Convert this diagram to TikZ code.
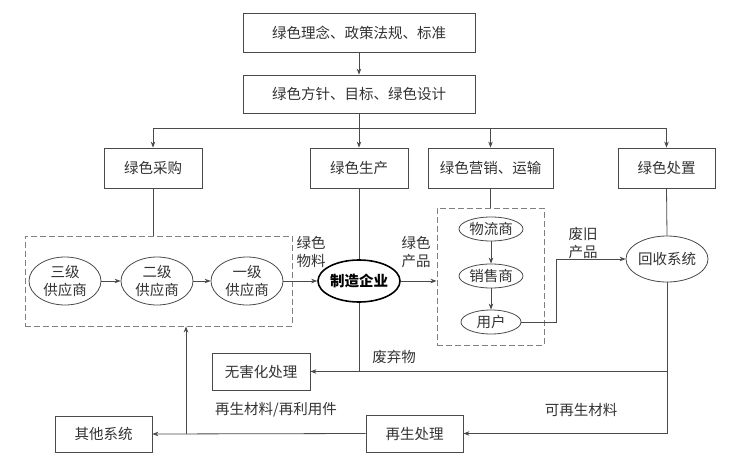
\documentclass[tikz,border=0pt]{standalone}
\usepackage{fontspec}
\newfontfamily\cjk{Noto Sans CJK SC}
\usetikzlibrary{arrows.meta,shapes.geometric}
\definecolor{ln}{HTML}{4A4A4A}
\definecolor{tx}{HTML}{333333}
\definecolor{dsh}{HTML}{808080}
\begin{document}
\begin{tikzpicture}[x=1pt,y=-1pt,
  every node/.style={text=tx, font=\cjk\fontsize{14.5}{18}\selectfont},
  box/.style={draw=ln, line width=0.8pt, rectangle, inner sep=0pt},
  ell/.style={draw=ln, line width=0.8pt, ellipse, inner sep=0pt, align=center},
  dbox/.style={draw=dsh, line width=0.9pt, dash pattern=on 6pt off 3pt, rectangle, inner sep=0pt},
  lab/.style={align=center, inner sep=0pt},
  arr/.style={-{Stealth[length=6pt,width=4.5pt]}},
  ln/.style={draw=ln, line width=0.8pt}]
\fill[white] (0,0) rectangle (735,473);
\useasboundingbox (0,0) rectangle (735,473);
% top boxes
\node[box, minimum width=232pt, minimum height=39pt] (n1) at (359,33) {绿色理念、政策法规、标准};
\node[box, minimum width=232pt, minimum height=38pt] (n2) at (359,94) {绿色方针、目标、绿色设计};
% second row
\node[box, minimum width=98pt, minimum height=40pt] (pur) at (153,168) {绿色采购};
\node[box, minimum width=98pt, minimum height=40pt] (prod) at (359,168) {绿色生产};
\node[box, minimum width=125pt, minimum height=40pt] (mkt) at (490.5,168) {绿色营销、运输};
\node[box, minimum width=97pt, minimum height=40pt] (disp) at (666.5,168) {绿色处置};
\coordinate (bus) at (359,128);
% dashed groups
\node[dbox, minimum width=267pt, minimum height=90pt] (lbox) at (158.5,281) {};
\node[dbox, minimum width=107pt, minimum height=137pt] (mbox) at (490.5,276.5) {};
% suppliers
\node[ell, minimum width=72pt, minimum height=48pt] (s3) at (65,281) {三级\\供应商};
\node[ell, minimum width=72pt, minimum height=48pt] (s2) at (157,281) {二级\\供应商};
\node[ell, minimum width=72pt, minimum height=48pt] (s1) at (247,281) {一级\\供应商};
\node[ell, line width=1.6pt, draw=black, minimum width=78pt, minimum height=42pt, font=\cjk\bfseries\fontsize{14.5}{18}\selectfont, text=black] (mfg) at (359,281) {制造企业};
% marketing chain
\node[ell, minimum width=64pt, minimum height=24pt] (log) at (491,229) {物流商};
\node[ell, minimum width=64pt, minimum height=24pt] (sale) at (491,276) {销售商};
\node[ell, minimum width=60pt, minimum height=24pt] (user) at (491,322) {用户};
% recycle
\node[ell, minimum width=72pt, minimum height=46pt] (rec) at (667,259) {回收系统};
% bottom boxes
\node[box, minimum width=98pt, minimum height=37pt] (harm) at (261,371.5) {无害化处理};
\node[box, minimum width=97pt, minimum height=37pt] (regen) at (414.5,433.5) {再生处理};
\node[box, minimum width=97pt, minimum height=36pt] (other) at (103.5,434) {其他系统};
% labels
\node[lab] (l1) at (311,252) {绿色\\物料};
\node[lab] (l2) at (416,252) {绿色\\产品};
\node[lab] (l3) at (583,243) {废旧\\产品};
\node[lab] (l4) at (394,357) {废弃物};
\node[lab] (l5) at (276,410) {再生材料/再利用件};
\node[lab] (l6) at (581,410) {可再生材料};
% connectors
\draw[ln, arr] (n1.south) -- (n2.north);
\draw[ln] (n2.south) -- (bus);
\draw[ln] (bus -| pur) -- (bus -| disp);
\draw[ln, arr] (bus -| pur) -- (pur.north);
\draw[ln, arr] (bus -| prod) -- (prod.north);
\draw[ln, arr] (bus -| mkt) -- (mkt.north);
\draw[ln, arr] (bus -| disp) -- (disp.north);
\draw[ln] (pur.south) -- (pur.south |- lbox.north);
\draw[ln] (prod.south) -- (mfg.north);
\draw[ln] (mkt.south) -- (mkt.south |- mbox.north);
\draw[ln] (disp.south) -- (rec.north);
\draw[ln, arr] (s3) -- (s2);
\draw[ln, arr] (s2) -- (s1);
\draw[ln, arr] (s1) -- (mfg);
\draw[ln, arr] (mfg.east) -- (mfg.east -| mbox.west);
\draw[ln, arr] (log) -- (sale);
\draw[ln, arr] (sale) -- (user);
\coordinate (bend) at (556,322);
\draw[ln, arr] (user.east) -- (bend) -- (bend |- rec.west) -- (rec.west);
\draw[ln] (mfg.south) -- (mfg.south |- harm.east);
\draw[ln] (rec.south) -- (rec.south |- regen.east);
\draw[ln, arr] (rec.south |- harm.east) -- (harm.east);
\draw[ln, arr] (rec.south |- regen.east) -- (regen.east);
\draw[ln, arr] (regen.west) -- (other.east);
\coordinate (up) at (186,433.5);
\draw[ln, arr] (up) -- (up |- lbox.south);
\end{tikzpicture}
\end{document}
